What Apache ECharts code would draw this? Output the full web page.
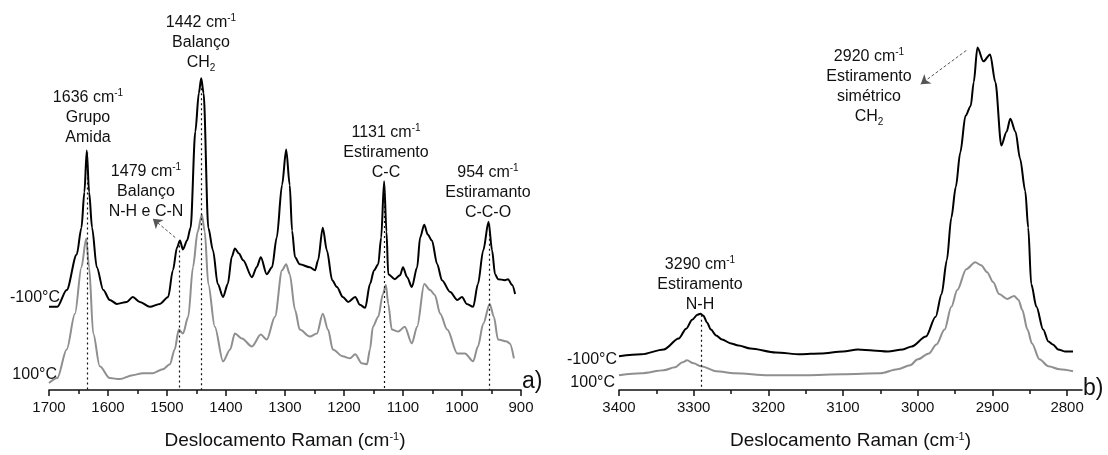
<!DOCTYPE html>
<html>
<head>
<meta charset="utf-8">
<script src="https://cdn.jsdelivr.net/npm/echarts@6/dist/echarts.min.js"></script>
<style>
  html, body { margin: 0; padding: 0; background: #fff; }
  #chart { width: 1108px; height: 455px; }
</style>
</head>
<body>
<div id="chart"></div>
<script>
// painel a) 1700-900 cm-1
const waveA_cold = [1700,1686,1670,1653,1645,1640,1636,1632,1627,1619,1608,1597,1585,1568,1558,1546,1529,1512,1498,1490,1483,1478,1473,1466,1460,1452,1446,1442,1438,1430,1422,1414,1405,1397,1390,1385,1378,1371,1356,1348,1341,1331,1322,1314,1305,1298,1292,1288,1283,1275,1258,1249,1244,1236,1229,1220,1212,1202,1193,1181,1173,1164,1156,1149,1142,1137,1132,1128,1125,1114,1105,1100,1093,1085,1076,1071,1064,1058,1051,1042,1034,1020,1008,1000,992,981,973,964,955,949,944,939,927,922,915,910];
const intA_cold = [84,84,101,137,164,200,242,200,164,124,101,91,87,89,94,89,84,87,94,121,144,151,142,151,164,261,300,315,300,164,141,107,94,107,135,143,138,131,114,124,134,117,124,154,207,243,207,161,134,127,124,121,131,164,141,111,104,94,89,94,86,83,107,121,127,154,211,160,117,112,116,124,114,104,124,154,167,157,151,127,111,99,91,94,87,84,107,141,170,141,117,112,111,112,106,97];

const waveA_hot = [1700,1686,1670,1656,1645,1637,1632,1625,1614,1597,1580,1558,1541,1524,1507,1495,1487,1480,1473,1464,1456,1448,1441,1436,1430,1419,1405,1393,1385,1373,1356,1341,1331,1317,1305,1298,1292,1283,1275,1258,1246,1236,1227,1219,1202,1190,1181,1170,1161,1156,1151,1142,1134,1129,1125,1119,1108,1097,1085,1076,1064,1054,1046,1037,1025,1008,995,981,973,964,953,946,939,924,919,912];
const intA_hot = [7,12,41,77,124,153,124,57,24,12,11,15,17,17,21,26,41,61,57,74,124,160,177,160,107,64,29,41,57,52,44,56,51,74,121,127,117,81,61,54,57,77,61,41,34,32,36,27,26,41,64,74,97,106,87,61,59,64,47,64,107,101,96,77,61,37,37,29,44,67,87,74,51,49,47,32];

// painel b) 3400-2780 cm-1
const waveB_cold = [3400,3370,3340,3320,3310,3302,3295,3291,3287,3282,3277,3270,3262,3250,3240,3224,3190,3157,3130,3100,3080,3060,3040,3020,3008,2989,2976,2968,2961,2955,2949,2943,2936,2929,2925,2920,2912,2903,2896,2888,2881,2876,2869,2863,2856,2852,2848,2841,2832,2825,2819,2812,2803,2792];
const intB_cold = [34,36,41,52,62,71,76,77,75,68,61,55,51,47,45,42,38,36,37,39,41,40,39,41,44,54,74,97,131,174,205,240,277,287,311,346,332,339,311,247,261,274,261,234,201,164,107,84,61,49,46,41,39,39];

const waveB_hot = [3400,3370,3340,3325,3315,3309,3300,3290,3270,3245,3200,3150,3100,3050,3027,3010,3000,2985,2975,2964,2955,2947,2935,2923,2915,2907,2899,2891,2880,2871,2865,2860,2853,2847,2837,2825,2810,2792];
const intB_hot = [15,17,20,23,28,30,27,24,19,17,15,15,16,17,21,25,31,37,46,61,84,101,122,129,126,119,109,97,92,95,91,81,61,47,31,24,21,19];

const ticksB = [3400,3300,3200,3100,3000,2900,2800];
const minorB = [3350,3250,3150,3050,2950,2850];

const pairs = (xs, ys) => xs.map((x, i) => [x, ys[i]]);

const FONT = 'Liberation Sans, Arial, sans-serif';
const INK = '#111';
const GRAY = '#8f8f8f';

const supRich = {
  s: { fontSize: 10, verticalAlign: 'top', fontFamily: FONT, color: INK, padding: [0, 0, 6, 0] },
  b: { fontSize: 10, verticalAlign: 'bottom', fontFamily: FONT, color: INK, padding: [8, 0, 0, 0] }
};

function note(x, y, lines) {
  return {
    type: 'text', x: x, y: y,
    style: {
      text: lines.join('\n'),
      font: '16px ' + FONT,
      fill: INK,
      align: 'center',
      verticalAlign: 'top',
      lineHeight: 20,
      rich: supRich
    }
  };
}

function plain(x, y, text, size, align) {
  return {
    type: 'text', x: x, y: y,
    style: { text: text, font: size + 'px ' + FONT, fill: INK, align: align, verticalAlign: 'middle' }
  };
}

const vline = (x, top) => [{ coord: [x, top] }, { coord: [x, 0] }];
const arrowStyle = { color: '#555', type: [3, 2], width: 1 };
const arrow = (x0, y0, x1, y1) => [
  { coord: [x0, y0], symbol: 'none', lineStyle: arrowStyle },
  { coord: [x1, y1], symbol: 'arrow', symbolSize: 9, lineStyle: arrowStyle }
];

const axisCommon = {
  type: 'value',
  inverse: true,
  position: 'bottom',
  splitLine: { show: false },
  axisLine: { lineStyle: { color: INK, width: 1.5 } },
  axisTick: { length: 6, lineStyle: { color: INK, width: 1.5 } },
  axisLabel: { color: INK, fontSize: 15, fontFamily: FONT, margin: 10, formatter: v => String(v) },
  nameLocation: 'middle',
  nameGap: 41,
  nameTextStyle: { color: INK, fontSize: 19, fontFamily: FONT, rich: { s: { fontSize: 11, verticalAlign: 'top', padding: [0, 0, 8, 0], color: INK, fontFamily: FONT } } },
  name: 'Deslocamento Raman (cm{s|-1})'
};

const chart = echarts.init(document.getElementById('chart'));

chart.setOption({
  animation: false,
  backgroundColor: '#fff',
  grid: [
    { left: 49, top: 0, width: 472, height: 394 },
    { left: 619, top: 0, width: 463, height: 394 }
  ],
  xAxis: [
    Object.assign({}, axisCommon, {
      gridIndex: 0, min: 900, max: 1700, interval: 100,
      minorTick: { show: true, splitNumber: 2, length: 4, lineStyle: { color: INK, width: 1.5 } }
    }),
    Object.assign({}, axisCommon, {
      gridIndex: 1, min: 2780, max: 3400,
      axisLabel: Object.assign({}, axisCommon.axisLabel, { customValues: ticksB }),
      axisTick: Object.assign({}, axisCommon.axisTick, { customValues: ticksB })
    }),
    {
      type: 'value', gridIndex: 1, min: 2780, max: 3400, inverse: true, position: 'bottom',
      splitLine: { show: false },
      axisLine: { show: false },
      axisLabel: { show: false },
      axisTick: { show: true, length: 4, customValues: minorB, lineStyle: { color: INK, width: 1.5 } }
    }
  ],
  yAxis: [
    { type: 'value', gridIndex: 0, min: 0, max: 394, show: false },
    { type: 'value', gridIndex: 1, min: 0, max: 394, show: false }
  ],
  series: [
    {
      type: 'line', xAxisIndex: 0, yAxisIndex: 0, data: pairs(waveA_hot, intA_hot),
      showSymbol: false, smooth: 0.3, smoothMonotone: 'x',
      lineStyle: { color: GRAY, width: 2 }
    },
    {
      type: 'line', xAxisIndex: 0, yAxisIndex: 0, data: pairs(waveA_cold, intA_cold),
      showSymbol: false, smooth: 0.3, smoothMonotone: 'x',
      lineStyle: { color: '#000', width: 2 },
      markLine: {
        silent: true, symbol: ['none', 'none'], label: { show: false },
        lineStyle: { color: INK, type: [2, 3], width: 1.2 },
        data: [
          vline(1636, 240), vline(1479, 146), vline(1442, 310), vline(1131, 206), vline(954, 168),
          arrow(1486, 154, 1524, 173)
        ]
      }
    },
    {
      type: 'line', xAxisIndex: 1, yAxisIndex: 1, data: pairs(waveB_hot, intB_hot),
      showSymbol: false, smooth: 0.3, smoothMonotone: 'x',
      lineStyle: { color: GRAY, width: 2 }
    },
    {
      type: 'line', xAxisIndex: 1, yAxisIndex: 1, data: pairs(waveB_cold, intB_cold),
      showSymbol: false, smooth: 0.3, smoothMonotone: 'x',
      lineStyle: { color: '#000', width: 2 },
      markLine: {
        silent: true, symbol: ['none', 'none'], label: { show: false },
        lineStyle: { color: INK, type: [2, 3], width: 1.2 },
        data: [
          vline(3290, 76),
          arrow(2935, 343, 2996, 309)
        ]
      }
    }
  ],
  graphic: [
    note(88, 88, ['1636 cm{s|-1}', 'Grupo', 'Amida']),
    note(201, 13, ['1442 cm{s|-1}', 'Balanço', 'CH{b|2}']),
    note(146, 162, ['1479 cm{s|-1}', 'Balanço', 'N-H e C-N']),
    note(386, 123, ['1131 cm{s|-1}', 'Estiramento', 'C-C']),
    note(488, 163, ['954 cm{s|-1}', 'Estiramanto', 'C-C-O']),
    note(700, 255, ['3290 cm{s|-1}', 'Estiramento', 'N-H']),
    note(869, 47, ['2920 cm{s|-1}', 'Estiramento', 'simétrico', 'CH{b|2}']),
    plain(60, 298, '-100°C', 16, 'right'),
    plain(57, 375, '100°C', 16, 'right'),
    plain(617, 360, '-100°C', 16, 'right'),
    plain(615, 383, '100°C', 16, 'right'),
    plain(522, 382, 'a)', 23, 'left'),
    plain(1083, 389, 'b)', 23, 'left')
  ]
});
</script>
</body>
</html>
